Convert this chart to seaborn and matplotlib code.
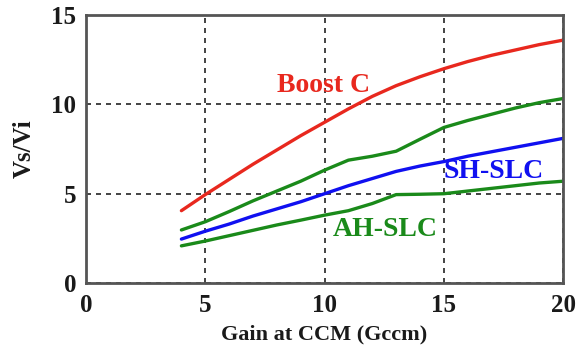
import matplotlib
matplotlib.use("Agg")
import matplotlib.pyplot as plt
import seaborn as sns
import pandas as pd

gain = [4, 5, 6, 7, 8, 9, 10, 11, 12, 13, 14, 15, 16, 17, 18, 19, 20]
boost_c = [4.05, 4.95, 5.8, 6.65, 7.45, 8.25, 9.0, 9.75, 10.45, 11.05, 11.55, 12.0, 12.4, 12.75, 13.05, 13.35, 13.6]
upper_green = [2.97, 3.43, 4.0, 4.6, 5.15, 5.7, 6.32, 6.88, 7.1, 7.38, 8.05, 8.71, 9.1, 9.45, 9.8, 10.1, 10.33]
sh_slc = [2.46, 2.9, 3.3, 3.75, 4.15, 4.55, 5.0, 5.45, 5.85, 6.25, 6.55, 6.8, 7.1, 7.35, 7.6, 7.85, 8.1]
ah_slc = [2.08, 2.35, 2.65, 2.95, 3.25, 3.52, 3.8, 4.05, 4.45, 4.95, 4.97, 5.0, 5.15, 5.3, 5.45, 5.6, 5.7]

series_names = ["Boost C", "Upper", "SH-SLC", "AH-SLC"]
series_vals = [boost_c, upper_green, sh_slc, ah_slc]
series_colors = ["#e8281e", "#1a8a1a", "#1010f0", "#1a8a1a"]

rows = []
for name, vals in zip(series_names, series_vals):
    for g, v in zip(gain, vals):
        rows.append({"gain": g, "value": v, "series": name})
df = pd.DataFrame(rows)

sns.set_theme(style="white")
plt.rcParams["font.family"] = ["Liberation Serif", "DejaVu Serif"]
plt.rcParams["font.weight"] = "bold"

fig = plt.figure(figsize=(5.77, 3.52), dpi=100)
ax = fig.add_axes([0.149, 0.196, 0.827, 0.761])

sns.lineplot(data=df, x="gain", y="value", hue="series", hue_order=series_names,
             palette=dict(zip(series_names, series_colors)), linewidth=2.4,
             legend=False, ax=ax, sort=False)

ax.set_xlim(0, 20)
ax.set_ylim(0, 15)
ax.set_xticks([0, 5, 10, 15, 20])
ax.set_yticks([0, 5, 10, 15])
ax.grid(True, color="#222222", linestyle=(0, (3, 3)), linewidth=1.2)
for s in ax.spines.values():
    s.set_color("#555555")
    s.set_linewidth(2)
ax.tick_params(axis="both", length=0, labelsize=18, colors="#1a1a1a")
ax.tick_params(axis="x", pad=8)
ax.tick_params(axis="y", pad=7)
for lab in ax.get_xticklabels() + ax.get_yticklabels():
    lab.set_fontweight("bold")

ax.set_xlabel("Gain at CCM (Gccm)", fontsize=16, fontweight="bold", labelpad=5, color="#1a1a1a")
ax.set_ylabel("Vs/Vi", fontsize=18, fontweight="bold", labelpad=11, color="#1a1a1a")

ax.text(9.96, 11.08, "Boost C", color="#e8281e", fontsize=20, fontweight="bold",
        ha="center", va="center")
ax.text(17.1, 6.23, "SH-SLC", color="#1010f0", fontsize=20, fontweight="bold",
        ha="center", va="center")
ax.text(12.54, 2.97, "AH-SLC", color="#1a8a1a", fontsize=20, fontweight="bold",
        ha="center", va="center")

fig.savefig("out.png", dpi=100)
